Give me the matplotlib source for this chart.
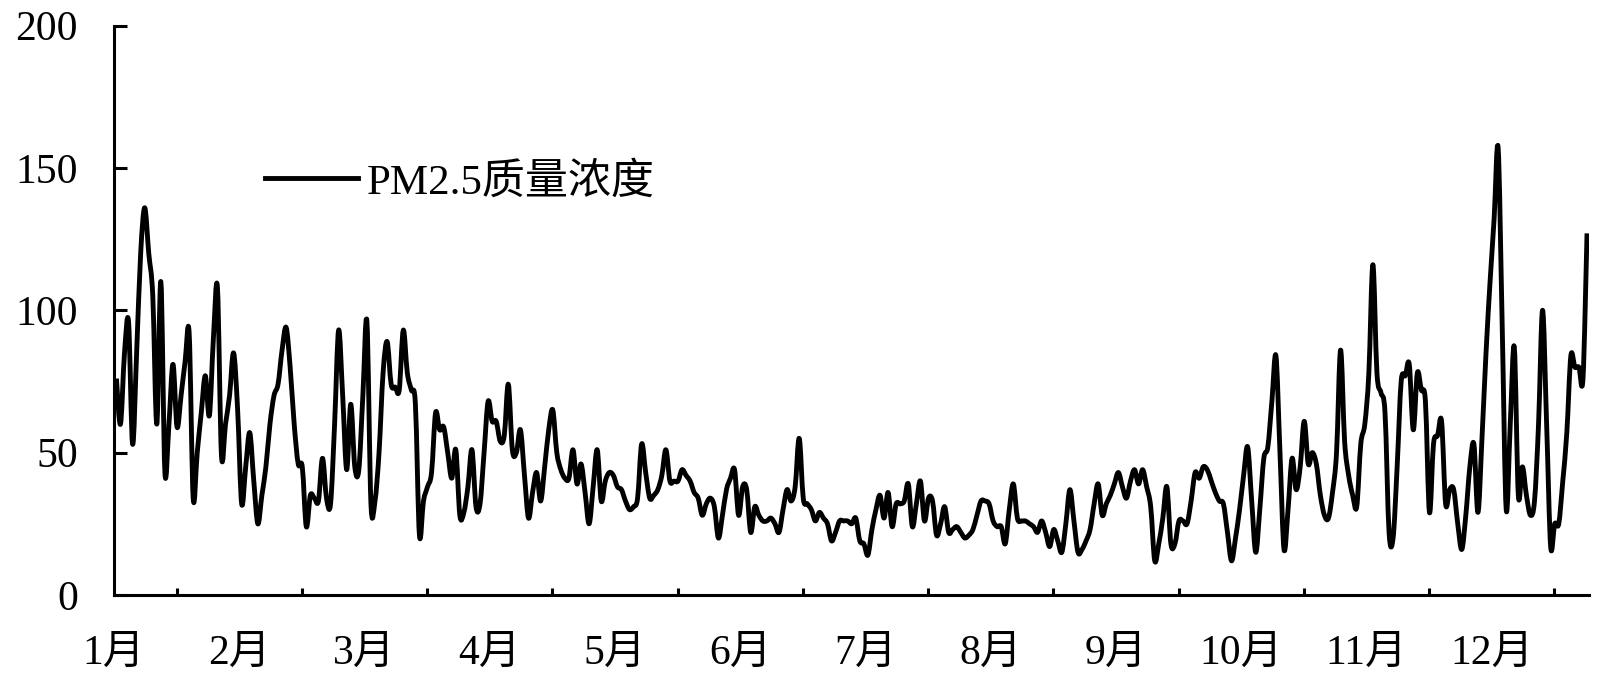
import numpy as np
import matplotlib
matplotlib.use("Agg")
import matplotlib.pyplot as plt
from matplotlib.path import Path
from matplotlib.patches import PathPatch
from matplotlib.lines import Line2D

# daily PM2.5 values (365 days)
pm25 = [
    76, 60, 85, 96, 53, 85, 120, 136, 120, 105,
    60, 110, 43, 60, 81, 59, 70, 82, 92, 34,
    50, 64, 77, 63, 90, 108, 49, 60, 70, 85,
    65, 32, 45, 57, 40, 25, 35, 45, 60, 70,
    74, 86, 94, 80, 60, 46, 45, 24, 35, 34,
    33, 48, 34, 32, 60, 93, 70, 44, 67, 45,
    44, 70, 96, 32, 33, 50, 78, 89, 74, 73,
    72, 93, 78, 72, 67, 21, 33, 38, 43, 64,
    58, 59, 50, 41, 51, 28, 29, 38, 51, 31,
    32, 50, 68, 61, 61, 54, 56, 74, 51, 50,
    58, 42, 27, 36, 43, 33, 45, 58, 65, 50,
    44, 41, 41, 51, 39, 46, 36, 25, 38, 51,
    33, 40, 43, 42, 38, 37, 33, 30, 31, 34,
    53, 43, 34, 35, 37, 42, 51, 40, 40, 40,
    44, 42, 40, 36, 34, 28, 32, 34, 31, 20,
    28, 37, 41, 44, 28, 38, 37, 22, 31, 28,
    26, 26, 27, 25, 22, 30, 37, 33, 38, 55,
    34, 32, 30, 26, 29, 27, 25, 19, 22, 26,
    26, 26, 25, 27, 19, 18, 14, 23, 30, 35,
    27, 36, 24, 32, 32, 33, 39, 24, 32, 40,
    26, 34, 33, 21, 25, 31, 22, 23, 24, 22,
    20, 21, 23, 28, 33, 33, 32, 26, 24, 24,
    18, 30, 39, 27, 26, 26, 25, 24, 22, 26,
    22, 17, 23, 19, 15, 25, 37, 26, 15, 16,
    19, 23, 32, 39, 28, 32, 35, 39, 43, 38,
    34, 40, 44, 39, 44, 38, 31, 12, 18, 27,
    38, 18, 18, 26, 26, 25, 33, 43, 41, 45,
    44, 40, 36, 33, 32, 22, 12, 20, 30, 42,
    52, 33, 15, 30, 48, 52, 68, 84, 50, 16,
    30, 48, 37, 45, 61, 46, 50, 46, 35, 28,
    27, 36, 50, 86, 54, 42, 35, 31, 53, 60,
    78, 116, 78, 71, 64, 22, 20, 45, 75, 77,
    81, 58, 78, 72, 68, 29, 53, 56, 61, 32,
    37, 37, 25, 16, 28, 45, 53, 29, 55, 85,
    110, 132, 157, 95, 30, 60, 87, 35, 45, 35,
    28, 33, 60, 100, 60, 17, 25, 25, 40, 57,
    84, 80, 80, 76, 127,
]
month_labels = ["1月", "2月", "3月", "4月", "5月", "6月",
                "7月", "8月", "9月", "10月", "11月", "12月"]
y_ticks = [0, 50, 100, 150, 200]
legend_label = "PM2.5质量浓度"

plt.rcParams['font.family'] = ['Liberation Serif', 'Noto Sans CJK SC']

days = np.arange(len(pm25))


def smooth_path(x, y):
    # cubic bezier pieces, like a spreadsheet "smoothed line"
    pts = np.column_stack([x, y]).astype(float)
    n = len(pts)
    verts = [pts[0]]
    codes = [Path.MOVETO]
    for i in range(n - 1):
        p0 = pts[max(i - 1, 0)]
        p1 = pts[i]
        p2 = pts[i + 1]
        p3 = pts[min(i + 2, n - 1)]
        verts += [p1 + (p2 - p0) / 6, p2 - (p3 - p1) / 6, p2]
        codes += [Path.CURVE4] * 3
    return Path(verts, codes)


fig = plt.figure(figsize=(16, 6.82), dpi=100)
ax = fig.add_axes([0.07125, 0.1276, 0.9219, 0.835])

lw = 3.5
patch = PathPatch(smooth_path(days, pm25), fill=False, edgecolor='black',
                  lw=lw, joinstyle='round', capstyle='butt')
ax.add_patch(patch)

ax.set_xlim(-0.6, 364.5)
ax.set_ylim(0, 200)

for s in ['top', 'right']:
    ax.spines[s].set_visible(False)
for s in ['left', 'bottom']:
    ax.spines[s].set_linewidth(2.2)

# tick marks sit between month labels
tick_pos = [31 * k + 14.9 for k in range(12)]
label_pos = [31 * k - 0.6 for k in range(12)]
ax.set_xticks(tick_pos)
ax.set_xticklabels([])
ax.set_xticks(label_pos, month_labels, minor=True)
ax.tick_params(axis='x', which='major', direction='in', length=5, width=2.2)
ax.tick_params(axis='x', which='minor', length=0, pad=28, labelsize=30)

ax.set_yticks(y_ticks)
ax.tick_params(axis='y', direction='in', length=9.5, width=2.2,
               pad=26, labelsize=30)

handle = Line2D([0], [0], color='black', lw=lw)
ax.legend([handle], [legend_label], loc='center left',
          bbox_to_anchor=(0.1024, 0.724), frameon=False, fontsize=31,
          handlelength=2.15, handletextpad=0.22, borderpad=0,
          borderaxespad=0)

fig.savefig('out.png', dpi=100)
